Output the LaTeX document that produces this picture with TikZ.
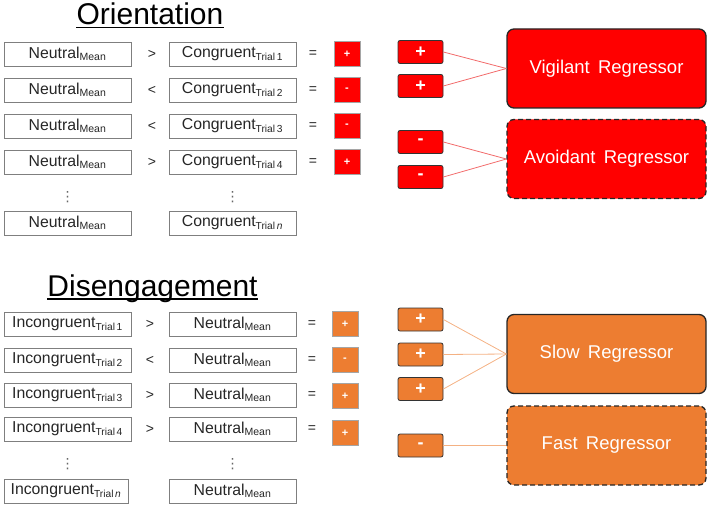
\documentclass[tikz,border=0pt]{standalone}
\usepackage{fontspec}
\setmainfont{Liberation Sans}
\newfontfamily\dejavu{DejaVu Sans}
\usepackage{tikz}
\usetikzlibrary{positioning}
\usepackage{color}

\definecolor{sigred}{HTML}{FF0000}
\definecolor{sigorange}{HTML}{ED7D31}
\definecolor{redline}{HTML}{F26A6A}
\definecolor{orangeline}{HTML}{F4B183}
\definecolor{boxgray}{HTML}{7F7F7F}
\definecolor{txtgray}{HTML}{262626}

\newcommand{\trl}[1]{\textsubscript{\fontsize{10.2}{12}\selectfont Trial\,#1}}
\newcommand{\mn}{\textsubscript{\fontsize{10.5}{12}\selectfont Mean}}

\begin{document}
\begin{tikzpicture}[x=1pt, y=-1pt,
    trialbox/.style={rectangle, draw=boxgray, line width=0.6pt, minimum width=127pt,
        minimum height=24pt, inner sep=0pt, text=txtgray, font=\fontsize{15.8}{18}\selectfont},
    opsign/.style={text=txtgray, font=\fontsize{14}{16}\selectfont},
    vdot/.style={inner sep=0pt, text=txtgray!70, font=\dejavu\fontsize{14}{16}\selectfont},
    smallsign/.style={rectangle, draw=boxgray!70, line width=0.5pt, minimum width=26pt,
        minimum height=25pt, inner sep=0pt, text=white, font=\fontsize{11}{12}\selectfont\bfseries},
    bigsign/.style={rectangle, rounded corners=2pt, draw=black!80, line width=0.8pt,
        minimum width=45pt, minimum height=23pt, inner sep=0pt, text=white,
        font=\fontsize{18}{18}\selectfont\bfseries},
    regbox/.style={rectangle, rounded corners=7pt, draw=black!85, line width=1.3pt,
        minimum width=199pt, minimum height=79pt, inner sep=0pt, text=white,
        font=\fontsize{18.5}{20}\selectfont},
    dashbox/.style={regbox, dash pattern=on 5pt off 3pt},
    title/.style={anchor=base, inner sep=0pt, text=black, font=\fontsize{30}{32}\selectfont}]
    \useasboundingbox (0,0) rectangle (708,505);

    % orientation
    \path
        node (ori) at (150,24.5) [title] {Orientation}
        node (nl1) at (67.5,54)  [trialbox] {Neutral\mn}
        node (nl2) at (67.5,90)  [trialbox] {Neutral\mn}
        node (nl3) at (67.5,126) [trialbox] {Neutral\mn}
        node (nl4) at (67.5,162) [trialbox] {Neutral\mn}
        node (nln) at (67.5,223) [trialbox] {Neutral\mn}
        node (cg1) at (232.5,54)  [trialbox] {Congruent\trl{1}}
        node (cg2) at (232.5,90)  [trialbox] {Congruent\trl{2}}
        node (cg3) at (232.5,126) [trialbox] {Congruent\trl{3}}
        node (cg4) at (232.5,162) [trialbox] {Congruent\trl{4}}
        node (cgn) at (232.5,223) [trialbox] {Congruent\trl{\textit{n}}};
    \draw[line width=1.6pt] ([yshift=-3pt]ori.base west) -- ([yshift=-3pt]ori.base east);
    \path
        node (oc1) at (152,54)  [opsign] {>}
        node (oc2) at (152,90)  [opsign] {<}
        node (oc3) at (152,126) [opsign] {<}
        node (oc4) at (152,162) [opsign] {>}
        node (oe1) at (313,54)  [opsign] {=}
        node (oe2) at (313,90)  [opsign] {=}
        node (oe3) at (313,126) [opsign] {=}
        node (oe4) at (313,162) [opsign] {=}
        node (od1) at (67.5,197) [vdot] {⋮}
        node (od2) at (232.5,197) [vdot] {⋮};
    \path
        node (os1) at (347,54)  [smallsign, fill=sigred] {+}
        node (os2) at (347,90)  [smallsign, fill=sigred] {-}
        node (os3) at (347,126) [smallsign, fill=sigred] {-}
        node (os4) at (347,162) [smallsign, fill=sigred] {+};
    \path
        node (vp1) at (420.5,52)  [bigsign, fill=sigred] {+}
        node (vp2) at (420.5,86)  [bigsign, fill=sigred] {+}
        node (am1) at (420.5,142) [bigsign, fill=sigred] {-}
        node (am2) at (420.5,177) [bigsign, fill=sigred] {-}
        node (vig) at (606.5,68.5)  [regbox, fill=sigred] {Vigilant\, Regressor}
        node (avo) at (606.5,159) [dashbox, fill=sigred] {Avoidant\, Regressor};
    \draw[redline, line width=0.8pt] (vp1.east) -- (vig.west);
    \draw[redline, line width=0.8pt] (vp2.east) -- (vig.west);
    \draw[redline, line width=0.8pt] (am1.east) -- (avo.west);
    \draw[redline, line width=0.8pt] (am2.east) -- (avo.west);

    % disengagement
    \path
        node (dis) at (152.5,296) [title] {Disengagement}
        node (ic1) at (67.5,324) [trialbox] {Incongruent\trl{1}}
        node (ic2) at (67.5,360) [trialbox] {Incongruent\trl{2}}
        node (ic3) at (67.5,395) [trialbox] {Incongruent\trl{3}}
        node (ic4) at (67.5,429) [trialbox] {Incongruent\trl{4}}
        node (icn) at (66,491)   [trialbox, minimum width=124pt] {Incongruent\trl{\textit{n}}}
        node (nr1) at (232.5,324) [trialbox] {Neutral\mn}
        node (nr2) at (232.5,360) [trialbox] {Neutral\mn}
        node (nr3) at (232.5,395) [trialbox] {Neutral\mn}
        node (nr4) at (232.5,429) [trialbox] {Neutral\mn}
        node (nrn) at (232.5,491) [trialbox] {Neutral\mn};
    \draw[line width=1.6pt] ([yshift=-3pt]dis.base west) -- ([yshift=-3pt]dis.base east);
    \path
        node (dc1) at (150,324) [opsign] {>}
        node (dc2) at (150,360) [opsign] {<}
        node (dc3) at (150,395) [opsign] {>}
        node (dc4) at (150,429) [opsign] {>}
        node (de1) at (312,324) [opsign] {=}
        node (de2) at (312,360) [opsign] {=}
        node (de3) at (312,395) [opsign] {=}
        node (de4) at (312,429) [opsign] {=}
        node (dd1) at (67.5,464) [vdot] {⋮}
        node (dd2) at (232.5,464) [vdot] {⋮};
    \path
        node (ds1) at (345,324) [smallsign, fill=sigorange] {+}
        node (ds2) at (345,360) [smallsign, fill=sigorange] {-}
        node (ds3) at (345,396) [smallsign, fill=sigorange] {+}
        node (ds4) at (345,433) [smallsign, fill=sigorange] {+};
    \path
        node (sp1) at (420.5,319.5) [bigsign, fill=sigorange] {+}
        node (sp2) at (420.5,354.5) [bigsign, fill=sigorange] {+}
        node (sp3) at (420.5,389) [bigsign, fill=sigorange] {+}
        node (fm1) at (420.5,445.5) [bigsign, fill=sigorange] {-}
        node (slow) at (606.5,354) [regbox, fill=sigorange] {Slow\, Regressor}
        node (fast) at (606.5,445.5) [dashbox, fill=sigorange] {Fast\, Regressor};
    \draw[orangeline, line width=0.8pt] (sp1.east) -- (slow.west);
    \draw[orangeline, line width=0.8pt] (sp2.east) -- (slow.west);
    \draw[orangeline, line width=0.8pt] (sp3.east) -- (slow.west);
    \draw[orangeline, line width=0.8pt] (fm1.east) -- (fast.west);
\end{tikzpicture}
\end{document}
